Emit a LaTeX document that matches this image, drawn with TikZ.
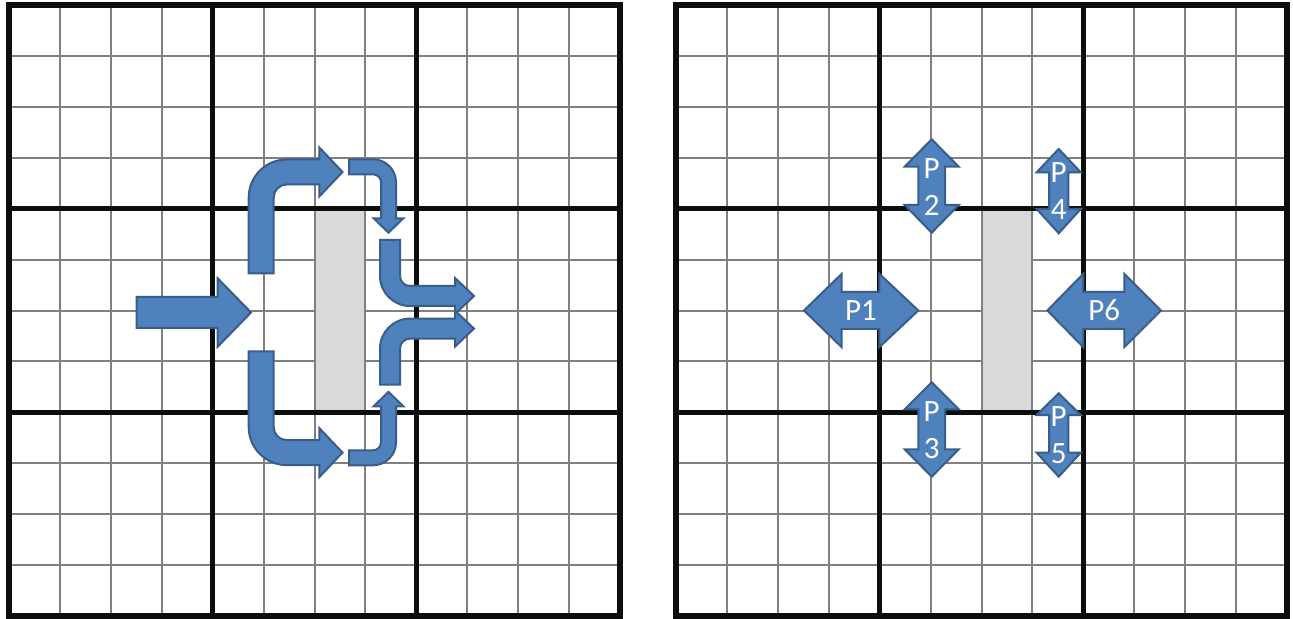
\documentclass[tikz,border=0pt]{standalone}
\usepackage{fontspec}
\setmainfont{Carlito}
\definecolor{afill}{HTML}{4F81BD}
\definecolor{aline}{HTML}{385D8A}
\definecolor{gline}{HTML}{808080}
\definecolor{kline}{HTML}{0D0D0D}
\definecolor{rfill}{HTML}{D9D9D9}
\begin{document}
\begin{tikzpicture}[x=0.5pt,y=-0.5pt,
  bluearrow/.style={fill=afill,draw=aline,line width=1pt,line join=miter},
  thingrid/.style={draw=gline,line width=1pt},
  thickgrid/.style={draw=kline,line width=2.75pt},
  plabel/.style={text=white,font=\fontsize{15.5}{18.5}\selectfont,align=center,inner sep=0pt}]
\useasboundingbox (0,0) rectangle (1293,619);
\def\cs{50.917}
% grids
\foreach \ox in {9,676}{
  \foreach \i in {1,2,3,5,6,7,9,10,11}{
    \draw[thingrid] (\ox+\i*\cs,5) -- (\ox+\i*\cs,616);
    \draw[thingrid] (\ox,5+\i*\cs) -- (\ox+611,5+\i*\cs);
  }
  \fill[rfill] (\ox+6*\cs+1,5+4*\cs) rectangle (\ox+7*\cs-1,5+8*\cs);
  \foreach \i in {4,8}{
    \draw[thickgrid] (\ox+\i*\cs,5) -- (\ox+\i*\cs,616);
    \draw[thickgrid] (\ox,5+\i*\cs) -- (\ox+611,5+\i*\cs);
  }
  \draw[thickgrid] (\ox,5) rectangle (\ox+611,616);
}
% ---- left grid arrows ----
% straight arrow
\draw[bluearrow] (136.7,297) -- (217.7,297) -- (217.7,278.3) -- (251,312.5)
  -- (217.7,346.7) -- (217.7,328) -- (136.7,328) -- cycle;
% upper big bent arrow (up then right)
\draw[bluearrow] (248.7,273.3) -- (248.7,197.5) arc[start angle=180,end angle=270,radius=38]
  -- (319.3,159.5) -- (319.3,147.5) -- (342.5,172) -- (319.3,196.5) -- (319.3,184.5)
  -- (286.7,184.5) arc[start angle=270,end angle=180,radius=13] -- (273.7,273.3) -- cycle;
% lower big bent arrow (down then right)
\draw[bluearrow] (248.7,351.3) -- (248.7,427.1) arc[start angle=180,end angle=90,radius=38]
  -- (319.3,465.1) -- (319.3,477.1) -- (342.5,452.6) -- (319.3,428.1) -- (319.3,440.1)
  -- (286.7,440.1) arc[start angle=90,end angle=180,radius=13] -- (273.7,351.3) -- cycle;
% upper small bent arrow (right then down)
\draw[bluearrow] (349,159.3) -- (373,159.3) arc[start angle=270,end angle=360,radius=23]
  -- (396,218.3) -- (403.3,218.3) -- (388.5,232.7) -- (373.7,218.3) -- (381,218.3)
  -- (381,182.3) arc[start angle=0,end angle=-90,radius=8] -- (349,174.3) -- cycle;
% lower small bent arrow (right then up)
\draw[bluearrow] (349,465.3) -- (373,465.3) arc[start angle=90,end angle=0,radius=23]
  -- (396,406.3) -- (403.3,406.3) -- (388.5,391.9) -- (373.7,406.3) -- (381,406.3)
  -- (381,442.3) arc[start angle=0,end angle=90,radius=8] -- (349,450.3) -- cycle;
% right upper bent arrow (down then right)
\draw[bluearrow] (380,240) -- (380,276) arc[start angle=180,end angle=90,radius=30]
  -- (455,306) -- (455,314) -- (474,296) -- (455,278) -- (455,286)
  -- (410,286) arc[start angle=90,end angle=180,radius=10] -- (400,240) -- cycle;
% right lower bent arrow (up then right)
\draw[bluearrow] (380,384.6) -- (380,348.6) arc[start angle=180,end angle=270,radius=30]
  -- (455,318.6) -- (455,310.6) -- (474,328.6) -- (455,346.6) -- (455,338.6)
  -- (410,338.6) arc[start angle=270,end angle=180,radius=10] -- (400,384.6) -- cycle;
% ---- right grid double arrows ----
% P1
\draw[bluearrow] (804,310.5) -- (841.7,273.8) -- (841.7,292) -- (879.3,292) -- (879.3,273.8)
  -- (918.3,310.5) -- (879.3,347.2) -- (879.3,329) -- (841.7,329) -- (841.7,347.2) -- cycle;
\node[plabel] (p1) at (861,310.5) {P1};
% P6
\draw[bluearrow] (1047.3,310.5) -- (1083.3,273.8) -- (1083.3,292) -- (1124.3,292) -- (1124.3,273.8)
  -- (1161,310.5) -- (1124.3,347.2) -- (1124.3,329) -- (1083.3,329) -- (1083.3,347.2) -- cycle;
\node[plabel] (p6) at (1104.2,310.5) {P6};
% P2
\draw[bluearrow] (931.7,139.3) -- (958.7,166.7) -- (945,166.7) -- (945,205) -- (958.7,205)
  -- (931.7,232.7) -- (904.7,205) -- (918.4,205) -- (918.4,166.7) -- (904.7,166.7) -- cycle;
\node[plabel] (p2) at (931.7,187) {P\\2};
% P3
\draw[bluearrow] (931.7,382.3) -- (958.7,409.3) -- (945,409.3) -- (945,449.3) -- (958.7,449.3)
  -- (931.7,476.7) -- (904.7,449.3) -- (918.4,449.3) -- (918.4,409.3) -- (904.7,409.3) -- cycle;
\node[plabel] (p3) at (931.7,430) {P\\3};
% P4
\draw[bluearrow] (1058.7,149) -- (1080.7,172.3) -- (1068.4,172.3) -- (1068.4,209) -- (1080.7,209)
  -- (1058.7,233.3) -- (1036.7,209) -- (1049,209) -- (1049,172.3) -- (1036.7,172.3) -- cycle;
\node[plabel] (p4) at (1058.7,191) {P\\4};
% P5
\draw[bluearrow] (1058.7,393.3) -- (1080.7,415) -- (1068.4,415) -- (1068.4,452.7) -- (1080.7,452.7)
  -- (1058.7,476.7) -- (1036.7,452.7) -- (1049,452.7) -- (1049,415) -- (1036.7,415) -- cycle;
\node[plabel] (p5) at (1058.7,435) {P\\5};
\end{tikzpicture}
\end{document}
